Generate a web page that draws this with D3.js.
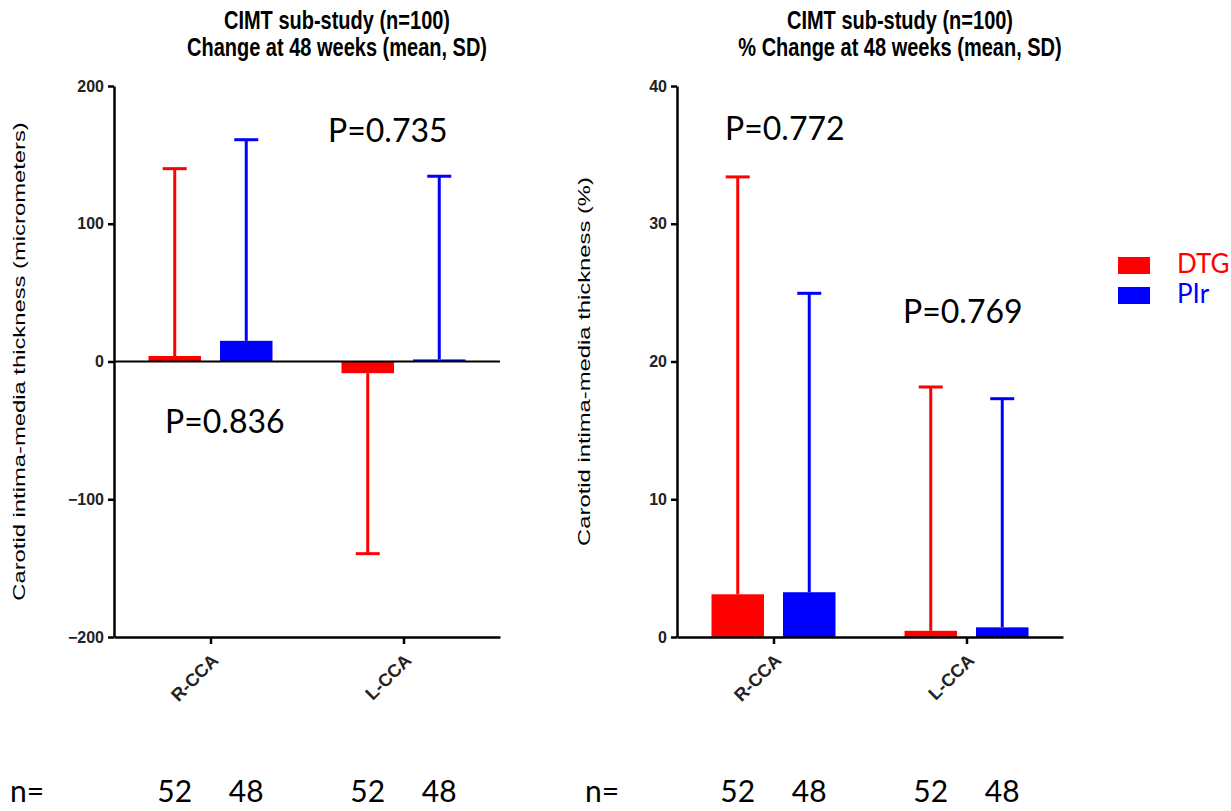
<!DOCTYPE html>
<html>
<head>
<meta charset="utf-8">
<script src="https://cdn.jsdelivr.net/npm/d3@7"></script>
<style>
  body { margin: 0; background: #fff; }
  svg { display: block; }
</style>
</head>
<body>
<div id="chart"></div>
<script>
const categories = ["R-CCA", "L-CCA"];
const groups = ["DTG", "PIr"];
const groupColors = ["#ff0000", "#0000ff"];
const groupN = [52, 48];

// change in micrometers
const dtgAbsMean = [4, -8.5];
const dtgAbsSD = [136, 131];
const pirAbsMean = [15, 1.5];
const pirAbsSD = [146, 133];

// % change
const dtgPctMean = [3.1, 0.45];
const dtgPctSD = [30.3, 17.7];
const pirPctMean = [3.25, 0.7];
const pirPctSD = [21.7, 16.6];

const absTicks = [-200, -100, 0, 100, 200];
const pctTicks = [0, 10, 20, 30, 40];

const absPLabels = ["P=0.836", "P=0.735"];
const pctPLabels = ["P=0.772", "P=0.769"];

const width = 1231, height = 811;
const svg = d3.select("#chart").append("svg")
    .attr("width", width)
    .attr("height", height);

const plotTop = 86, plotBottom = 637;
const stretch = 1.3; // the original graph looks stretched vertically

function panel(opts) {
    const { left, right, domain, ticks, title, yLabel, yLabelX, means, sds, pLabels, pPos, nX } = opts;

    const x0 = d3.scalePoint().domain(categories).range([left, right]).padding(0.5);
    const x1 = d3.scaleBand().domain(groups).range([-62, 62]).paddingInner(0.266);
    const y = d3.scaleLinear().domain(domain).range([plotBottom, plotTop]);

    const g = svg.append("g");
    const mid = (left + right) / 2 + 30;

    // title
    title.forEach((t, i) => {
        g.append("text")
            .attr("transform", `translate(${mid},${29 + i * 27}) scale(1,${stretch})`)
            .attr("text-anchor", "middle")
            .style("font-family", "'Liberation Sans', Arial, sans-serif")
            .style("font-weight", "bold")
            .style("font-size", "20px")
            .text(t);
    });

    // bars + error bars
    const rows = [];
    groups.forEach((grp, gi) => {
        categories.forEach((cat, ci) => {
            rows.push({ cat, grp, gi, mean: means[gi][ci], sd: sds[gi][ci] });
        });
    });

    const bx = d => x0(d.cat) + x1(d.grp);
    const cx = d => bx(d) + x1.bandwidth() / 2;

    g.selectAll("rect.bar")
        .data(rows)
        .join("rect")
        .attr("class", "bar")
        .attr("x", bx)
        .attr("width", x1.bandwidth())
        .attr("y", d => y(Math.max(0, d.mean)))
        .attr("height", d => Math.abs(y(d.mean) - y(0)))
        .attr("fill", d => groupColors[d.gi]);

    const tip = d => d.mean >= 0 ? d.mean + d.sd : d.mean - d.sd;
    g.selectAll("line.stem")
        .data(rows)
        .join("line")
        .attr("class", "stem")
        .attr("x1", cx).attr("x2", cx)
        .attr("y1", d => y(d.mean)).attr("y2", d => y(tip(d)))
        .attr("stroke", d => groupColors[d.gi])
        .attr("stroke-width", 3);
    g.selectAll("line.cap")
        .data(rows)
        .join("line")
        .attr("class", "cap")
        .attr("x1", d => cx(d) - 12).attr("x2", d => cx(d) + 12)
        .attr("y1", d => y(tip(d))).attr("y2", d => y(tip(d)))
        .attr("stroke", d => groupColors[d.gi])
        .attr("stroke-width", 3);

    // zero line
    if (domain[0] < 0) {
        g.append("line")
            .attr("x1", left).attr("x2", right)
            .attr("y1", y(0)).attr("y2", y(0))
            .attr("stroke", "#000").attr("stroke-width", 2);
    }

    // y axis
    const ya = g.append("g")
        .attr("transform", `translate(${left},0)`)
        .call(d3.axisLeft(y).tickValues(ticks).tickSize(6).tickSizeOuter(0).tickPadding(4));
    ya.select(".domain").attr("stroke-width", 2.5);
    ya.selectAll(".tick line").attr("stroke-width", 2.5);
    ya.selectAll(".tick text")
        .style("font-family", "'Liberation Sans', Arial, sans-serif")
        .style("font-weight", "bold")
        .style("font-size", "16px")
        .attr("fill", "#222");

    // x axis
    const xa = g.append("g")
        .attr("transform", `translate(0,${plotBottom})`)
        .call(d3.axisBottom(x0).tickSize(7).tickSizeOuter(0));
    xa.select(".domain").attr("stroke-width", 2.5);
    xa.selectAll(".tick line").attr("stroke-width", 2.5);
    xa.selectAll(".tick text")
        .style("font-family", "'Liberation Sans', Arial, sans-serif")
        .style("font-weight", "bold")
        .style("font-size", "18px")
        .attr("fill", "#222")
        .attr("text-anchor", "end")
        .attr("y", 0)
        .attr("dy", "0.35em")
        .attr("transform", "translate(4,20) rotate(-45)");

    // y label
    g.append("text")
        .attr("transform", `translate(${yLabelX},${(plotTop + plotBottom) / 2}) rotate(-90) scale(1.4,1)`)
        .attr("text-anchor", "middle")
        .style("font-family", "'Liberation Sans', Arial, sans-serif")
        .style("font-size", "17px")
        .text(yLabel);

    // p values
    pLabels.forEach((t, i) => {
        g.append("text")
            .attr("x", pPos[i][0])
            .attr("y", y(pPos[i][1]))
            .style("font-family", "Lato, 'Open Sans', sans-serif")
            .style("font-size", "32px")
            .text(t);
    });

    // n row
    g.append("text")
        .attr("x", nX).attr("y", 802)
        .style("font-family", "Lato, 'Open Sans', sans-serif")
        .style("font-size", "30px")
        .text("n=");
    g.selectAll("text.n")
        .data(rows)
        .join("text")
        .attr("class", "n")
        .attr("x", cx).attr("y", 802)
        .attr("text-anchor", "middle")
        .style("font-family", "Lato, 'Open Sans', sans-serif")
        .style("font-size", "30px")
        .text(d => groupN[d.gi]);
}

panel({
    left: 114, right: 500,
    domain: [-200, 200], ticks: absTicks,
    title: ["CIMT sub-study (n=100)", "Change at 48 weeks (mean, SD)"],
    yLabel: "Carotid intima-media thickness (micrometers)", yLabelX: 25,
    means: [dtgAbsMean, pirAbsMean], sds: [dtgAbsSD, pirAbsSD],
    pLabels: absPLabels, pPos: [[165, -52], [328, 159]],
    nX: 10
});

panel({
    left: 677, right: 1063,
    domain: [0, 40], ticks: pctTicks,
    title: ["CIMT sub-study (n=100)", "% Change at 48 weeks (mean, SD)"],
    yLabel: "Carotid intima-media thickness (%)", yLabelX: 590,
    means: [dtgPctMean, pirPctMean], sds: [dtgPctSD, pirPctSD],
    pLabels: pctPLabels, pPos: [[725, 36.1], [903, 22.8]],
    nX: 585
});

// legend
const legend = svg.append("g");
groups.forEach((grp, i) => {
    legend.append("rect")
        .attr("x", 1118).attr("y", 257 + i * 30)
        .attr("width", 32).attr("height", 17)
        .attr("fill", groupColors[i]);
    legend.append("text")
        .attr("x", 1177).attr("y", 273 + i * 30)
        .attr("fill", groupColors[i])
        .style("font-family", "Lato, 'Open Sans', sans-serif")
        .style("font-size", "26px")
        .text(grp);
});
</script>
</body>
</html>
